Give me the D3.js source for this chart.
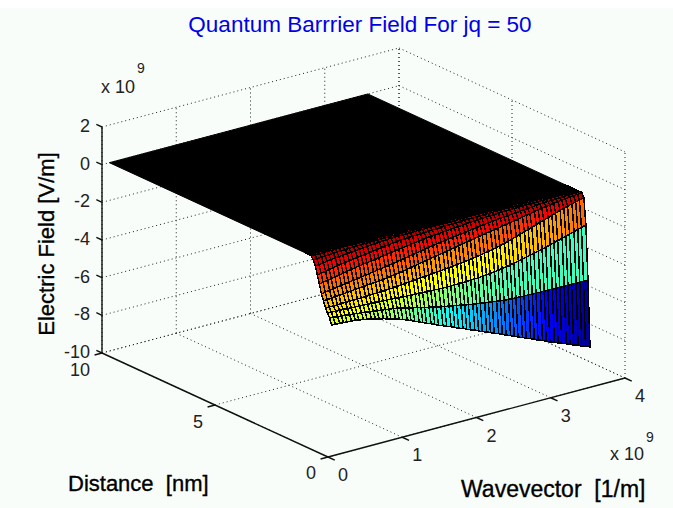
<!DOCTYPE html>
<html lang="en">
<head>
  <meta charset="UTF-8">
  <title>Quantum Barrier Field</title>
  <script src="https://cdn.jsdelivr.net/npm/d3@7"></script>
  <style>
    body {
      margin: 0;
      background: #fff;
      overflow: hidden;
    }

    text {
      font-family: "Liberation Sans", Arial, sans-serif;
      fill: #222;
      white-space: pre;
    }

    .heavy {
      fill: #000;
      stroke: #000;
      stroke-width: 0.35;
    }

    .grid {
      stroke: #222;
      stroke-width: 1;
      stroke-dasharray: 1 3;
      fill: none;
    }

    .axis {
      stroke: #111;
      stroke-width: 1.4;
      fill: none;
    }
  </style>
</head>
<body>
<svg id="canvas" width="673" height="508"></svg>
<script>
  const xTicks = [0, 1, 2, 3, 4];
  const yTicks = [0, 5, 10];
  const zTicks = [-10, -8, -6, -4, -2, 0, 2];

  // wavevector of every mesh column, 1e9 /m
  const wavevector = [0.10, 0.15, 0.21, 0.26, 0.31, 0.37, 0.42, 0.47, 0.53, 0.58,
    0.64, 0.69, 0.74, 0.80, 0.85, 0.90, 0.96, 1.01, 1.06, 1.12,
    1.17, 1.22, 1.28, 1.33, 1.38, 1.44, 1.49, 1.54, 1.60, 1.65,
    1.71, 1.76, 1.81, 1.87, 1.92, 1.97, 2.03, 2.08, 2.13, 2.19,
    2.24, 2.29, 2.35, 2.40, 2.45, 2.51, 2.56, 2.61, 2.67, 2.72,
    2.78, 2.83, 2.88, 2.94, 2.99, 3.04, 3.10, 3.15, 3.20, 3.26,
    3.31, 3.36, 3.42, 3.47, 3.52, 3.58];

  // distance of every mesh row near the barrier edge, nm
  const distance = [0.17, 0.26, 0.35, 0.44, 0.53, 0.62, 0.71, 0.80, 0.89, 0.98, 1.07, 1.16, 1.25];

  // the flat part, field is 0 there and the mesh is so dense it prints black
  const plateauDistance = [1.25, 10];

  // field per row, 1e9 V/m. a row stops where the field has reached 0
  const field = [
    [-3.19, -3.20, -3.22, -3.23, -3.25, -3.26, -3.28, -3.31, -3.35, -3.39, -3.44, -3.49, -3.54, -3.59, -3.65, -3.71, -3.77, -3.84, -3.91, -3.99,
      -4.08, -4.17, -4.26, -4.35, -4.44, -4.53, -4.62, -4.71, -4.80, -4.89, -4.97, -5.06, -5.15, -5.23, -5.32, -5.41, -5.49, -5.58, -5.67, -5.75,
      -5.84, -5.93, -6.01, -6.10, -6.19, -6.28, -6.37, -6.46, -6.55, -6.64, -6.73, -6.82, -6.90, -6.99, -7.08, -7.17, -7.25, -7.34, -7.42, -7.50,
      -7.59, -7.67, -7.75, -7.84, -7.92, -8.00],
    [-2.87, -2.89, -2.91, -2.93, -2.95, -2.97, -2.99, -3.02, -3.04, -3.07, -3.10, -3.12, -3.15, -3.18, -3.21, -3.24, -3.27, -3.30, -3.35, -3.40,
      -3.45, -3.50, -3.55, -3.60, -3.65, -3.70, -3.75, -3.80, -3.84, -3.88, -3.92, -3.96, -4.00, -4.04, -4.08, -4.12, -4.16, -4.19, -4.22, -4.25,
      -4.28, -4.31, -4.34, -4.37, -4.39, -4.41, -4.42, -4.43, -4.44, -4.45, -4.45, -4.46, -4.46, -4.47, -4.47, -4.48, -4.48, -4.48, -4.49, -4.49,
      -4.49, -4.50, -4.50, -4.50, -4.50, -4.50],
    [-2.65, -2.66, -2.67, -2.68, -2.69, -2.70, -2.71, -2.72, -2.73, -2.74, -2.75, -2.76, -2.77, -2.78, -2.79, -2.80, -2.81, -2.82, -2.84, -2.86,
      -2.87, -2.88, -2.89, -2.90, -2.91, -2.92, -2.93, -2.94, -2.95, -2.96, -2.96, -2.96, -2.96, -2.95, -2.95, -2.94, -2.93, -2.92, -2.91, -2.89,
      -2.87, -2.85, -2.83, -2.80, -2.76, -2.72, -2.68, -2.64, -2.59, -2.54, -2.49, -2.44, -2.39, -2.34, -2.29, -2.24, -2.18, -2.12, -2.06, -2.00,
      -1.94, -1.88, -1.82, -1.76, -1.70, -1.63],
    [-2.44, -2.44, -2.44, -2.43, -2.43, -2.42, -2.42, -2.41, -2.41, -2.40, -2.39, -2.38, -2.37, -2.36, -2.35, -2.34, -2.33, -2.32, -2.30, -2.28,
      -2.26, -2.24, -2.22, -2.20, -2.18, -2.16, -2.14, -2.12, -2.10, -2.08, -2.06, -2.04, -2.02, -1.99, -1.97, -1.94, -1.91, -1.88, -1.85, -1.81,
      -1.77, -1.73, -1.69, -1.65, -1.59, -1.53, -1.47, -1.41, -1.34, -1.27, -1.20, -1.13, -1.06, -0.99, -0.92, -0.85, -0.78, -0.71, -0.64, -0.57,
      -0.51, -0.45, -0.39, -0.34, -0.29, -0.24],
    [-2.11, -2.09, -2.07, -2.05, -2.03, -2.01, -1.99, -1.97, -1.95, -1.93, -1.91, -1.89, -1.87, -1.85, -1.83, -1.81, -1.78, -1.75, -1.72, -1.69,
      -1.65, -1.61, -1.57, -1.53, -1.49, -1.45, -1.41, -1.37, -1.33, -1.29, -1.25, -1.21, -1.17, -1.13, -1.09, -1.05, -1.01, -0.97, -0.93, -0.89,
      -0.85, -0.81, -0.78, -0.75, -0.71, -0.67, -0.63, -0.59, -0.55, -0.51, -0.47, -0.43, -0.39, -0.35, -0.31, -0.28, -0.24, -0.21, -0.18, -0.15,
      -0.12, -0.10, -0.08, -0.06, -0.04, -0.02],
    [-1.79, -1.75, -1.72, -1.69, -1.65, -1.62, -1.59, -1.55, -1.52, -1.49, -1.45, -1.42, -1.39, -1.35, -1.32, -1.29, -1.25, -1.22, -1.18, -1.15,
      -1.11, -1.07, -1.03, -0.99, -0.95, -0.91, -0.87, -0.83, -0.79, -0.76, -0.73, -0.70, -0.67, -0.64, -0.61, -0.58, -0.55, -0.52, -0.49, -0.46,
      -0.43, -0.40, -0.37, -0.34, -0.32, -0.30, -0.28, -0.26, -0.24, -0.22, -0.20, -0.18, -0.16, -0.14, -0.12, -0.10, -0.09, -0.08, -0.07, -0.06,
      -0.05, -0.04, -0.03, -0.02, -0.01, 0],
    [-1.31, -1.27, -1.23, -1.19, -1.15, -1.11, -1.07, -1.03, -0.99, -0.95, -0.91, -0.88, -0.85, -0.82, -0.79, -0.75, -0.72, -0.69, -0.65, -0.62,
      -0.59, -0.56, -0.53, -0.50, -0.47, -0.44, -0.41, -0.38, -0.36, -0.34, -0.32, -0.30, -0.28, -0.26, -0.24, -0.22, -0.20, -0.18, -0.16, -0.15,
      -0.14, -0.12, -0.11, -0.10, -0.09, -0.08, -0.07, -0.06, -0.06, -0.05, -0.05, -0.04, -0.04, -0.03, -0.03, -0.02, -0.02, -0.02, -0.01, -0.01,
      -0.01, -0.01],
    [-0.88, -0.84, -0.80, -0.76, -0.72, -0.68, -0.64, -0.61, -0.58, -0.55, -0.52, -0.49, -0.46, -0.43, -0.40, -0.37, -0.34, -0.31, -0.28, -0.25,
      -0.23, -0.21, -0.19, -0.18, -0.17, -0.16, -0.15, -0.14, -0.13, -0.12, -0.11, -0.10, -0.09, -0.08, -0.08, -0.07, -0.06, -0.06, -0.05, -0.05,
      -0.04, -0.04, -0.03, -0.03, -0.03, -0.02, -0.02, -0.02, -0.02, -0.01, -0.01, -0.01, -0.01, -0.01],
    [-0.46, -0.43, -0.40, -0.37, -0.34, -0.31, -0.29, -0.27, -0.25, -0.23, -0.21, -0.19, -0.17, -0.15, -0.13, -0.11, -0.09, -0.08, -0.06, -0.05,
      -0.05, -0.04, -0.04, -0.03, -0.03, -0.03, -0.02, -0.02, -0.02, -0.02, -0.01, -0.01, -0.01, -0.01, -0.01, -0.01, -0.01],
    [-0.19, -0.17, -0.15, -0.13, -0.12, -0.11, -0.10, -0.09, -0.08, -0.07, -0.06, -0.05, -0.05, -0.04, -0.04, -0.03, -0.03, -0.02, -0.02, -0.02,
      -0.01, -0.01, -0.01, -0.01, -0.01, -0.01],
    [-0.02, -0.02, -0.01, -0.01, -0.01, -0.01, -0.01],
    [],
    []
  ];

  // jet colormap stops
  const jetStops = ["#00008f", "#0000ff", "#00ffff", "#ffff00", "#ff0000", "#800000"];
  const jetAt = [0, 0.111, 0.365, 0.619, 0.873, 1];

  const svg = d3.select("#canvas");

  // page tint starts just under the top strip
  svg.append("rect").attr("x", 0).attr("y", 8).attr("width", 673).attr("height", 500).attr("fill", "#f8fdfa");

  // orthographic box, each data axis gets a horizontal and a vertical scale
  const xToLeft = d3.scaleLinear().domain([0, 4]).range([328, 625]);
  const xToTop = d3.scaleLinear().domain([0, 4]).range([0, -79]);
  const yToLeft = d3.scaleLinear().domain([0, 10]).range([0, -226]);
  const yToTop = d3.scaleLinear().domain([0, 10]).range([0, -104]);
  const zToTop = d3.scaleLinear().domain([-10, 2]).range([457, 231]);

  const color = d3.scaleLinear()
      .domain(jetAt.map(t => -8 + t * 8.2))
      .range(jetStops);

  function pt(x, y, z) {
    return [xToLeft(x) + yToLeft(y), zToTop(z) + xToTop(x) + yToTop(y)];
  }

  function seg(a, b, cls) {
    return svg.append("path").attr("class", cls).attr("d", d3.line()([a, b]));
  }

  // back walls and floor
  const zMin = -10, zMax = 2;
  xTicks.forEach(x => {
    seg(pt(x, 0, zMin), pt(x, 10, zMin), "grid");
    seg(pt(x, 10, zMin), pt(x, 10, zMax), "grid");
  });
  yTicks.forEach(y => {
    seg(pt(0, y, zMin), pt(4, y, zMin), "grid");
    seg(pt(4, y, zMin), pt(4, y, zMax), "grid");
  });
  zTicks.forEach(z => {
    seg(pt(0, 10, z), pt(4, 10, z), "grid");
    seg(pt(4, 10, z), pt(4, 0, z), "grid");
  });

  // plateau
  const xFirst = wavevector[0], xLast = wavevector[wavevector.length - 1];
  svg.append("path")
      .attr("fill", "#000")
      .attr("stroke", "#000")
      .attr("d", d3.line()([
        pt(xFirst, plateauDistance[1], 0), pt(xLast, plateauDistance[1], 0),
        pt(xLast, plateauDistance[0], 0), pt(xFirst, plateauDistance[0], 0)
      ]) + "Z");

  // mesh cells, back row first
  const cells = [];
  for (let r = distance.length - 2; r >= 0; r--) {
    for (let c = 0; c < wavevector.length - 1; c++) {
      const z = (i, k) => field[i][k] ?? 0;
      cells.push({
        z: z(r, c),
        corners: [
          pt(wavevector[c], distance[r], z(r, c)),
          pt(wavevector[c + 1], distance[r], z(r, c + 1)),
          pt(wavevector[c + 1], distance[r + 1], z(r + 1, c + 1)),
          pt(wavevector[c], distance[r + 1], z(r + 1, c))
        ]
      });
    }
  }

  svg.append("g")
      .selectAll("path")
      .data(cells)
      .join("path")
      .attr("d", d => d3.line()(d.corners) + "Z")
      .attr("fill", d => color(d.z))
      .attr("stroke", "#000")
      .attr("stroke-width", 1.5)
      .attr("shape-rendering", "crispEdges");

  // axes
  seg(pt(0, 10, zMin), pt(0, 10, zMax), "axis");
  seg(pt(0, 10, zMin), pt(0, 0, zMin), "axis");
  seg(pt(0, 0, zMin), pt(4, 0, zMin), "axis");
  zTicks.forEach(z => seg(pt(0, 10, z), pt(0, 10.25, z), "axis"));
  yTicks.forEach(y => seg(pt(0, y, zMin), pt(-0.1, y, zMin), "axis"));
  xTicks.forEach(x => seg(pt(x, 0, zMin), pt(x, -0.3, zMin), "axis"));

  function label(x, y, str, size, anchor) {
    return svg.append("text")
        .attr("x", x).attr("y", y)
        .attr("font-size", size)
        .attr("text-anchor", anchor || "middle")
        .text(str);
  }

  // tick labels
  zTicks.forEach(z => label(90, pt(0, 10, z)[1] + 5, z, 18, "end"));
  const yLabelPos = [[311, 479], [198, 428], [90, 376]];
  yTicks.forEach((y, i) => label(yLabelPos[i][0], yLabelPos[i][1], y, 18, i === 2 ? "end" : "middle"));
  xTicks.forEach(x => label(pt(x, 0, zMin)[0] + 15, pt(x, 0, zMin)[1] + 24, x, 18));

  // exponents
  label(101, 93, "x 10", 18, "start");
  label(137, 73, "9", 14, "start");
  label(610, 460, "x 10", 18, "start");
  label(646, 442, "9", 14, "start");

  // titles
  label(68, 491, "Distance  [nm]", 22, "start").attr("class", "heavy");
  label(461, 497, "Wavevector  [1/m]", 23, "start").attr("class", "heavy");
  svg.append("text")
      .attr("class", "heavy")
      .attr("transform", "translate(54,244) rotate(-90)")
      .attr("font-size", 22)
      .attr("text-anchor", "middle")
      .text("Electric Field [V/m]");
  label(360, 32, "Quantum Barrrier Field For jq = 50", 22.5).style("fill", "#0000e6");
</script>
</body>
</html>
